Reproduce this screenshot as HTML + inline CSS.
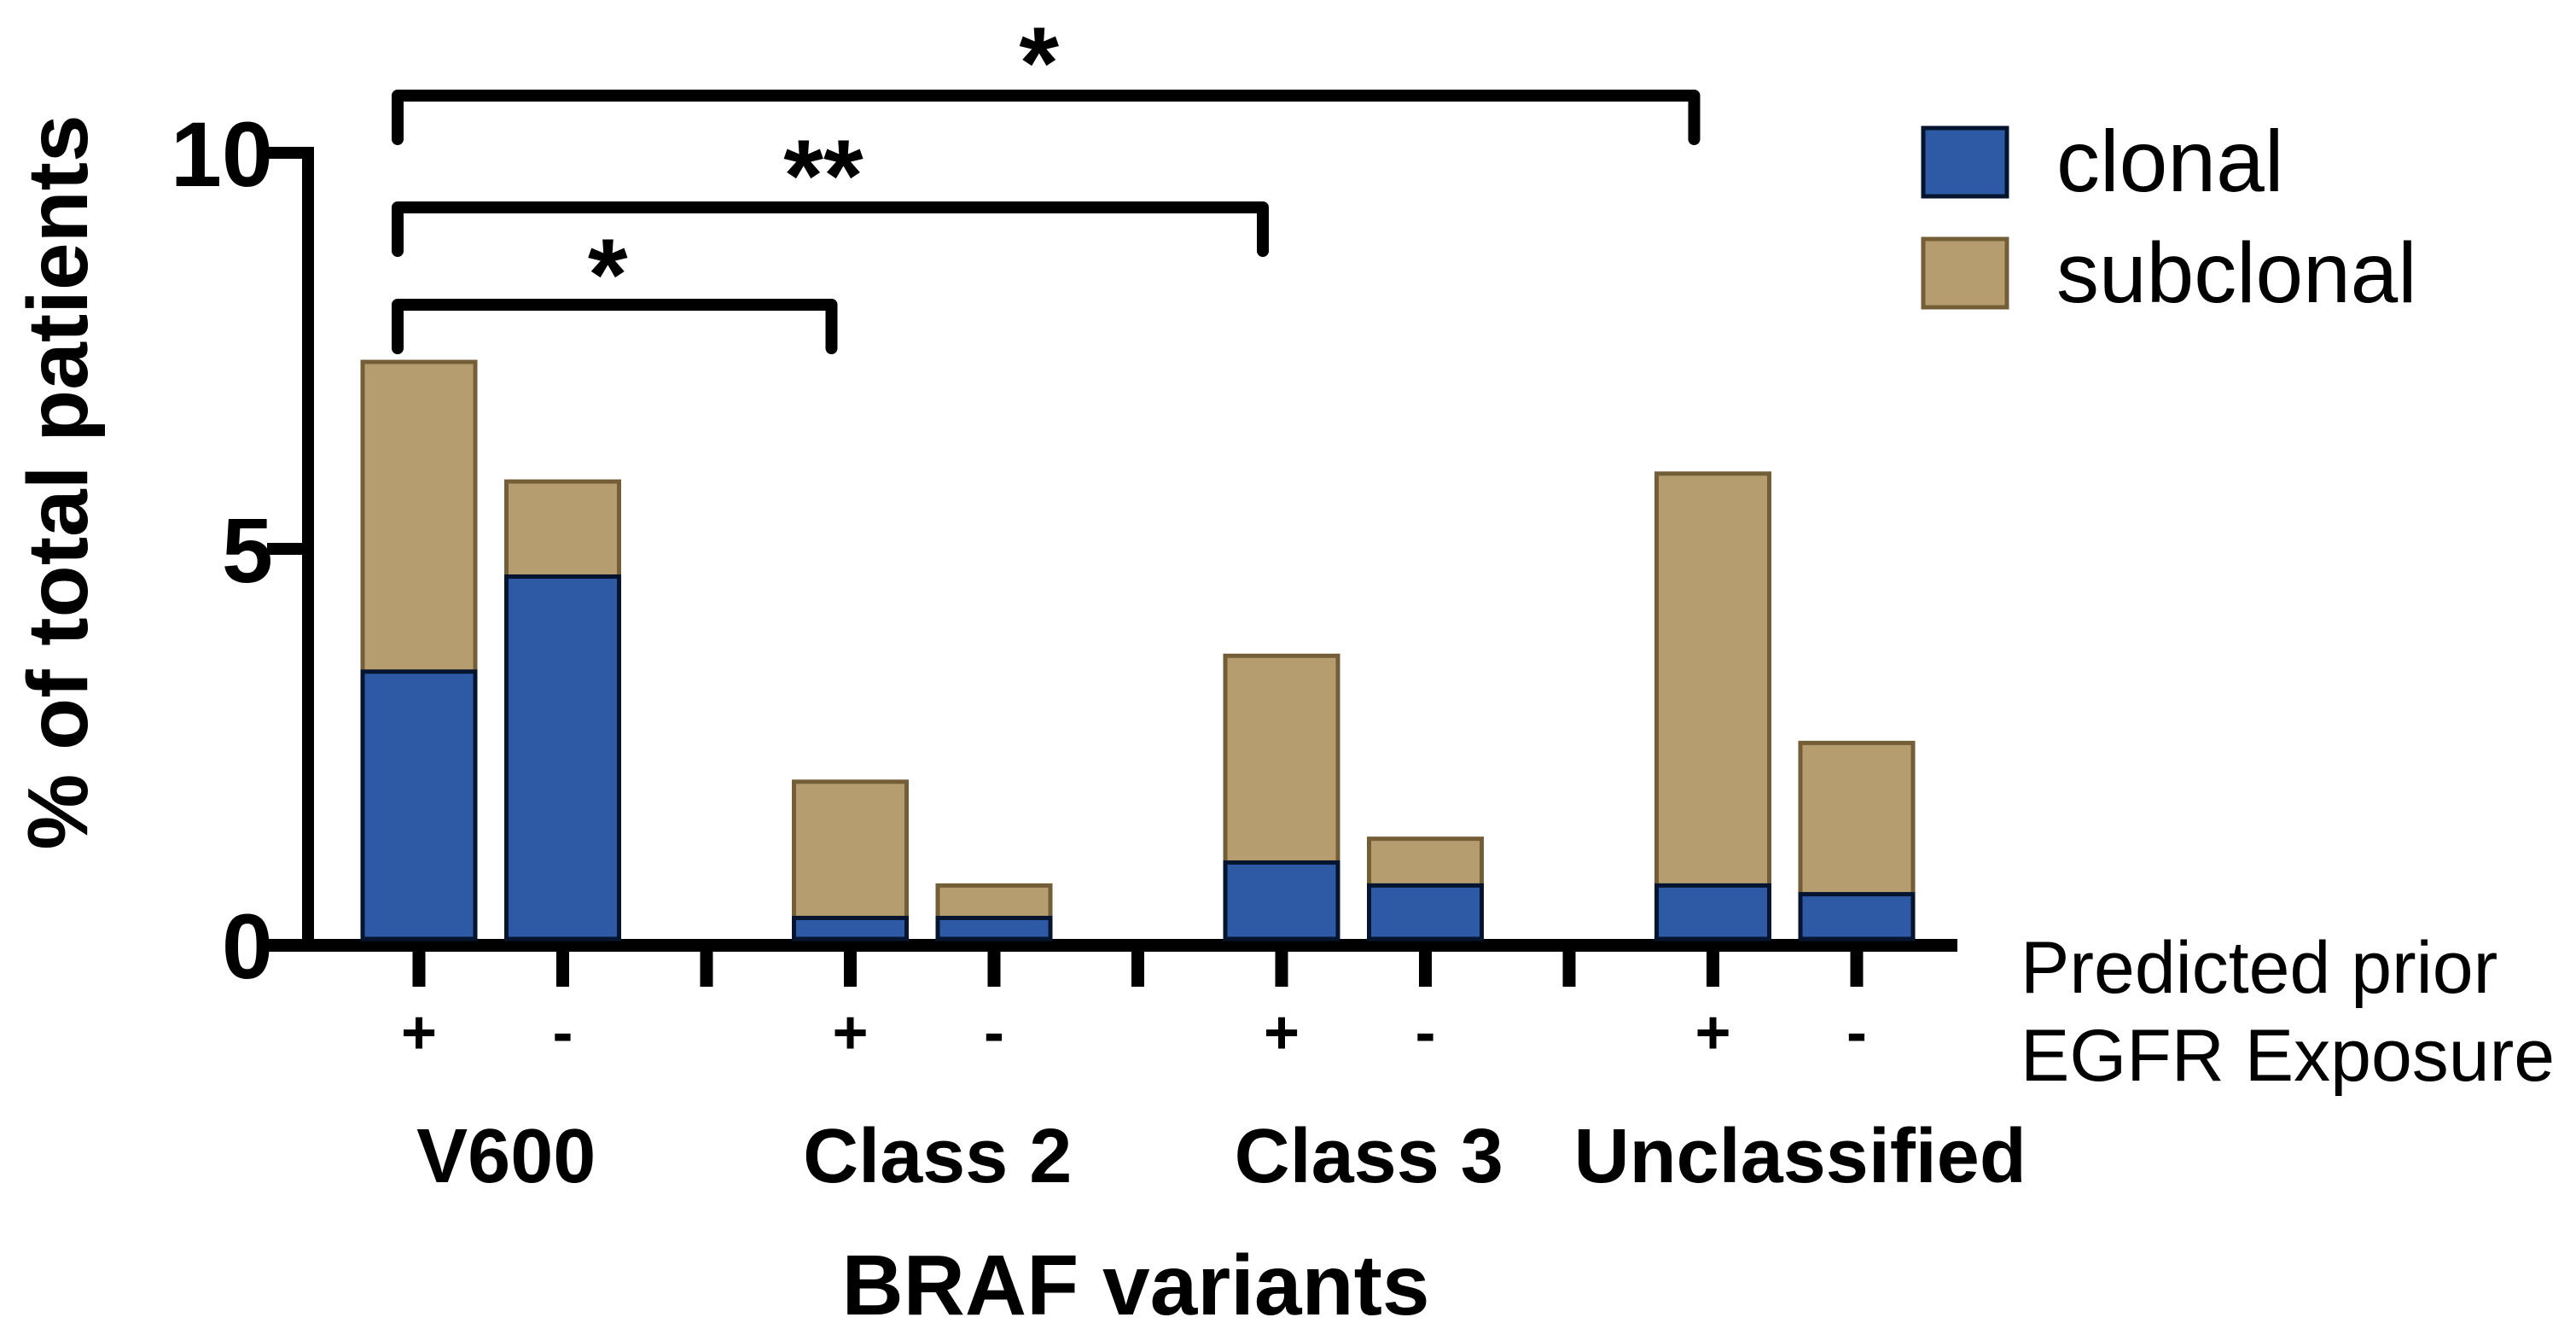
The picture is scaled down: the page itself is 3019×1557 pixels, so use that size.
<!DOCTYPE html>
<html><head><meta charset="utf-8"><style>
html,body{margin:0;padding:0;background:#fff;}
svg{display:block;font-family:"Liberation Sans",Arial,sans-serif;}
</style></head><body>
<svg id="chart" width="3019" height="1557" viewBox="0 0 3019 1557" xmlns="http://www.w3.org/2000/svg">
<g id="axes"></g>
<g id="bars"></g>
<g id="labels"></g>
<g id="brackets"></g>
<g>
  <rect x="2254" y="150" width="98" height="80" fill="#2E59A5" stroke="#06152F" stroke-width="5"/>
  <text x="2410" y="224" font-size="102">clonal</text>
  <rect x="2254" y="280" width="98" height="80" fill="#B59D70" stroke="#735E38" stroke-width="5"/>
  <text x="2410" y="354" font-size="100">subclonal</text>
</g>
<text x="2368" y="1163" font-size="86">Predicted prior</text>
<text x="2368" y="1266" font-size="86">EGFR Exposure</text>
<text x="1331" y="1540" font-size="100" font-weight="bold" text-anchor="middle">BRAF variants</text>
<text transform="translate(102,565) rotate(-90)" font-size="100" font-weight="bold" text-anchor="middle">% of total patients</text>
</svg>
<script>
const groups = ["V600", "Class 2", "Class 3", "Unclassified"];
const exposure = ["+", "-"];
const clonal = [3.45, 4.65, 0.34, 0.34, 1.04, 0.75, 0.75, 0.64];
const subclonal = [3.91, 1.2, 1.72, 0.41, 2.61, 0.59, 5.2, 1.91];
const yTicks = [0, 5, 10];
const sigPairs = [[0, 2, "*"], [0, 4, "**"], [0, 6, "*"]];

const NS = "http://www.w3.org/2000/svg";
const y0 = 1107, yPerUnit = 92.8;
function yScale(v){ return y0 - v * yPerUnit; }
const slot = 168.5, firstX = 491, barW = 132;
function barX(i){ const g = Math.floor(i/2), k = i%2; return firstX + (g*3 + k)*slot; }
function mk(tag, attrs, parent){ const e = document.createElementNS(NS, tag); for (const k in attrs) e.setAttribute(k, attrs[k]); parent.appendChild(e); return e; }

const axes = document.getElementById('axes');
const bars = document.getElementById('bars');
const labels = document.getElementById('labels');
const brackets = document.getElementById('brackets');

for (let i = 0; i < clonal.length; i++) {
  const cx = barX(i);
  const c = mk('rect', {x: cx - barW/2, y: yScale(clonal[i]), width: barW, height: yScale(0) - yScale(clonal[i]) - 7, fill: '#2E59A5', stroke: '#06152F', 'stroke-width': 5}, bars);
  
  
  const top = clonal[i] + subclonal[i];
  const s = mk('rect', {x: cx - barW/2, y: yScale(top), width: barW, height: yScale(clonal[i]) - yScale(top), fill: '#B59D70', stroke: '#735E38', 'stroke-width': 5}, bars);
  
  
  bars.appendChild(c);
}

const ya = mk('line', {x1: 361, y1: 172, x2: 361, y2: 1115, stroke: '#000', 'stroke-width': 14}, axes);


const xa = mk('line', {x1: 313, y1: 1107.5, x2: 2294, y2: 1107.5, stroke: '#000', 'stroke-width': 15}, axes);


yTicks.forEach(function(t){
  const y = yScale(t);
  const tk = mk('line', {x1: 313, y1: y, x2: 361, y2: y, stroke: '#000', 'stroke-width': 14}, axes);
  
  
  const tl = mk('text', {x: 320, y: y + 39, 'font-size': 108, 'font-weight': 'bold', 'text-anchor': 'end'}, labels);
  tl.textContent = t;
  
  
});
for (let s = 0; s < groups.length*3 - 1; s++) {
  const x = firstX + s*slot;
  const tk = mk('line', {x1: x, y1: 1110, x2: x, y2: 1156, stroke: '#000', 'stroke-width': 15}, axes);
  
  
}
for (let i = 0; i < clonal.length; i++) {
  const t = mk('text', {x: barX(i), y: 1234, 'font-size': 72, 'font-weight': 'bold', 'text-anchor': 'middle'}, labels);
  t.textContent = exposure[i%2];
  
  
}
groups.forEach(function(g, gi){
  const t = mk('text', {x: (barX(gi*2) + barX(gi*2+1))/2 + 18, y: 1385, 'font-size': 90, 'font-weight': 'bold', 'text-anchor': 'middle'}, labels);
  t.textContent = g;
  
  
});

const bracketY = [357, 243, 112];
const starY = [328, 212, 80];
sigPairs.forEach(function(p, k){
  const xl = barX(p[0]) - 25, xr = barX(p[1]) - 22, y = bracketY[k];
  const pl = mk('path', {d: 'M' + xl + ' ' + (y + 51) + ' L' + xl + ' ' + y + ' L' + xr + ' ' + y + ' L' + xr + ' ' + (y + 51), fill: 'none', stroke: '#000', 'stroke-width': 14, 'stroke-linecap': 'round', 'stroke-linejoin': 'round'}, brackets);
  
  
  const st = mk('text', {x: (xl + xr)/2 - 8, y: starY[k] + 35, 'font-size': 120, 'font-weight': 'bold', 'text-anchor': 'middle'}, brackets);
  st.textContent = p[2];
  
  
});
</script>
</body></html>
